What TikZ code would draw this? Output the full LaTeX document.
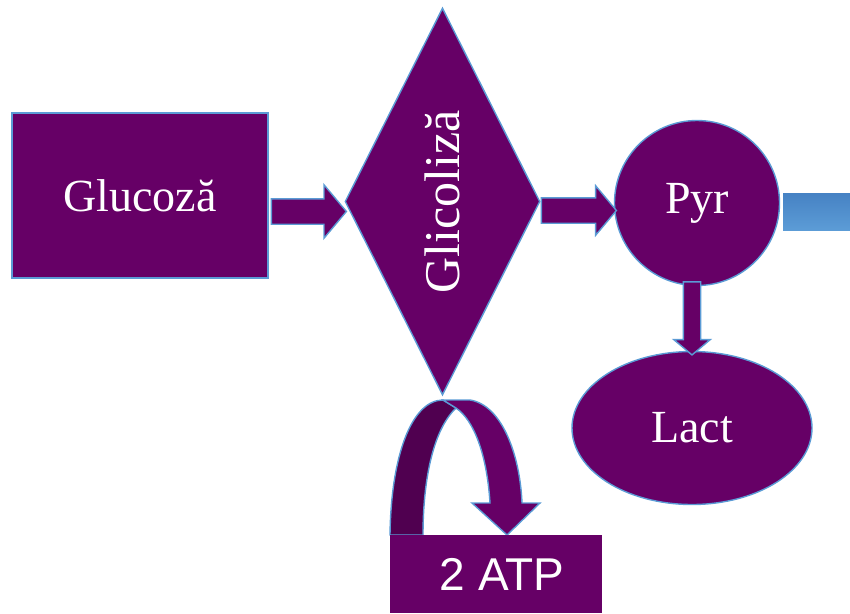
\documentclass[tikz,border=0pt]{standalone}
\usepackage{fontspec}
\setmainfont{Liberation Serif}
\newfontfamily\atpfont{Liberation Sans}
\usetikzlibrary{shapes.geometric,shapes.arrows,positioning}

\definecolor{plum}{RGB}{102,0,102}
\definecolor{darkplum}{RGB}{80,0,80}
\definecolor{edgeblue}{RGB}{91,155,213}
\definecolor{bartop}{RGB}{70,130,196}
\definecolor{barbottom}{RGB}{92,156,214}

\tikzstyle{block} = [fill=plum, draw=edgeblue, line width=1.4pt, text=white, inner sep=0pt,
font=\fontsize{46}{50}\selectfont]
\tikzstyle{blockarrow} = [single arrow, fill=plum, draw=edgeblue, line width=1.4pt, inner xsep=0pt,
single arrow tip angle=100]

\begin{document}
\begin{tikzpicture}[x=1pt, y=1pt]
            \useasboundingbox (0,0) rectangle (850,-613);

            % Draw Boxes
            \node(glucoza) [block, minimum width=256pt, minimum height=165pt] at (140,-195.5) {Glucoză};
            \node(glicoliza) [block, diamond, shape aspect=0.5, minimum width=195pt, minimum height=387pt,
                font=\fontsize{50}{54}\selectfont] at (442.5,-201.5) {\rotatebox{90}{Glicoliză}};
            \node(pyr) [block, circle, minimum size=165pt] at (697,-203) {Pyr};
            \node(lact) [block, ellipse, minimum width=240pt, minimum height=153pt] at (692,-428) {Lact};

            % Draw Arrows
            \node(gluc2glic) [blockarrow, inner ysep=12pt, single arrow head extend=14pt, minimum height=75pt,
                anchor=tail] at ([xshift=2pt, yshift=-16pt]glucoza.east) {};
            \node(glic2pyr) [blockarrow, inner ysep=12pt, single arrow head extend=12pt, minimum height=75pt,
                anchor=tail] at ([yshift=-9pt]glicoliza.east) {};
            \node(pyr2lact) [blockarrow, inner ysep=8pt, single arrow head extend=9.5pt, minimum height=73pt,
                rotate=-90, anchor=tail] at ([xshift=-5pt, yshift=5pt]pyr.south) {};
            \fill[top color=bartop, bottom color=barbottom] ([xshift=3pt, yshift=10pt]pyr.east) rectangle (850,-230);

            % Curved arrow to ATP
            \filldraw[darkplum, draw=edgeblue, line width=1.4pt] (390,-535) .. controls (391,-455) and (412,-400) .. (443,-400)
                -- (456,-408) .. controls (433,-430) and (423,-480) .. (423,-535) -- cycle;
            \filldraw[plum, draw=edgeblue, line width=1.4pt] (443,-400) -- (470,-400) .. controls (502,-405) and (520,-455) .. (522,-503)
                -- (540,-503) -- (507,-535) -- (472,-503) -- (490,-503) .. controls (487,-455) and (474,-420) .. (456,-408) -- cycle;
            \node(atp) [fill=plum, text=white, inner sep=0pt, minimum width=212pt, minimum height=78pt,
                font=\atpfont\fontsize{46}{50}\selectfont] at (496,-574) {\hspace{12pt}2 ATP};
        \end{tikzpicture}
\end{document}
